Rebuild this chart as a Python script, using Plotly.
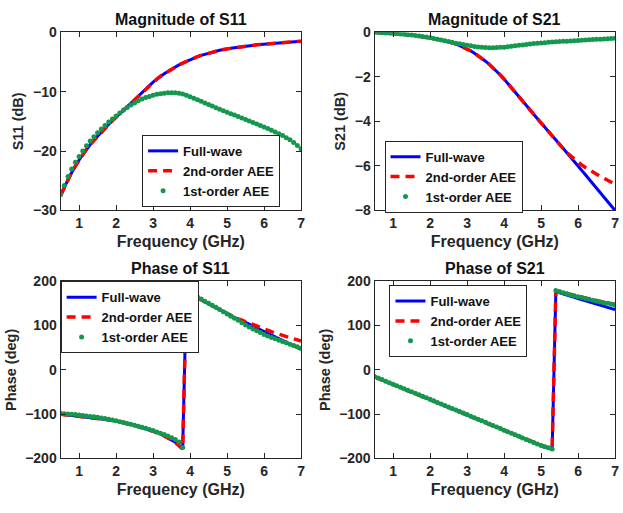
import plotly.graph_objects as go

# Frequency grid (GHz)
freq = [round(0.5 + 0.1 * k, 1) for k in range(66)]

# |S11| (dB)
fw_s11_mag = [-27.4, -26.0, -24.8, -23.6, -22.5, -21.5, -20.6, -19.7, -18.9, -18.2,
              -17.5, -16.8, -16.1, -15.5, -14.9, -14.3, -13.7, -13.1, -12.5, -11.9,
              -11.3, -10.7, -10.1, -9.5, -8.95, -8.4, -7.9, -7.4, -7.0, -6.6,
              -6.2, -5.85, -5.5, -5.2, -4.9, -4.6, -4.35, -4.1, -3.9, -3.7,
              -3.5, -3.35, -3.2, -3.05, -2.9, -2.8, -2.7, -2.6, -2.5, -2.42,
              -2.34, -2.26, -2.19, -2.12, -2.06, -2.0, -1.94, -1.89, -1.84, -1.79,
              -1.74, -1.69, -1.64, -1.59, -1.55, -1.5]
aee2_s11_mag = [-27.5, -26.1, -24.8, -23.6, -22.5, -21.5, -20.6, -19.7, -18.9, -18.2,
                -17.5, -16.8, -16.1, -15.5, -14.9, -14.3, -13.7, -13.1, -12.5, -11.9,
                -11.3, -10.7, -10.1, -9.5, -8.95, -8.4, -7.9, -7.4, -7.0, -6.6,
                -6.2, -5.85, -5.5, -5.2, -4.9, -4.6, -4.35, -4.1, -3.9, -3.7,
                -3.5, -3.35, -3.2, -3.05, -2.9, -2.8, -2.7, -2.6, -2.5, -2.42,
                -2.34, -2.26, -2.19, -2.12, -2.06, -2.0, -1.94, -1.89, -1.84, -1.79,
                -1.74, -1.69, -1.64, -1.59, -1.55, -1.5]
aee1_s11_mag = [-27.3, -25.8, -24.3, -23.0, -21.9, -20.9, -20.0, -19.1, -18.3, -17.6,
                -16.9, -16.3, -15.7, -15.1, -14.6, -14.1, -13.6, -13.1, -12.65, -12.25,
                -11.9, -11.55, -11.25, -11.0, -10.8, -10.6, -10.45, -10.35, -10.25, -10.2,
                -10.2, -10.2, -10.25, -10.4, -10.6, -10.85, -11.1, -11.35, -11.6, -11.9,
                -12.15, -12.4, -12.7, -12.95, -13.2, -13.45, -13.7, -13.95, -14.2, -14.45,
                -14.7, -14.95, -15.2, -15.45, -15.7, -15.95, -16.2, -16.5, -16.8, -17.1,
                -17.4, -17.75, -18.1, -18.55, -19.05, -19.6]

# |S21| (dB)
fw_s21_mag = [0.0, -0.01, -0.02, -0.03, -0.04, -0.05, -0.06, -0.08, -0.09, -0.11,
              -0.13, -0.15, -0.17, -0.19, -0.22, -0.25, -0.28, -0.31, -0.35, -0.38,
              -0.42, -0.47, -0.53, -0.6, -0.67, -0.75, -0.84, -0.94, -1.05, -1.17,
              -1.3, -1.44, -1.59, -1.75, -1.92, -2.1, -2.29, -2.48, -2.68, -2.88,
              -3.08, -3.28, -3.48, -3.68, -3.88, -4.08, -4.27, -4.46, -4.65, -4.84,
              -5.03, -5.22, -5.41, -5.6, -5.8, -6.0, -6.2, -6.4, -6.6, -6.8,
              -7.0, -7.2, -7.4, -7.6, -7.8, -8.0]
aee2_s21_mag = [0.0, -0.01, -0.02, -0.03, -0.04, -0.05, -0.06, -0.08, -0.09, -0.11,
                -0.13, -0.15, -0.17, -0.19, -0.22, -0.25, -0.28, -0.31, -0.35, -0.38,
                -0.42, -0.47, -0.53, -0.6, -0.67, -0.75, -0.84, -0.94, -1.05, -1.17,
                -1.3, -1.44, -1.59, -1.75, -1.92, -2.1, -2.29, -2.48, -2.68, -2.88,
                -3.08, -3.28, -3.48, -3.68, -3.88, -4.08, -4.27, -4.46, -4.65, -4.84,
                -5.03, -5.22, -5.41, -5.56, -5.7, -5.84, -5.96, -6.07, -6.18, -6.28,
                -6.38, -6.47, -6.55, -6.64, -6.73, -6.82]
aee1_s21_mag = [0.0, -0.01, -0.02, -0.03, -0.04, -0.05, -0.06, -0.08, -0.09, -0.11,
                -0.13, -0.15, -0.17, -0.19, -0.22, -0.25, -0.28, -0.31, -0.35, -0.38,
                -0.42, -0.45, -0.49, -0.52, -0.55, -0.58, -0.61, -0.64, -0.66, -0.68,
                -0.69, -0.7, -0.7, -0.69, -0.68, -0.67, -0.65, -0.63, -0.61, -0.59,
                -0.57, -0.55, -0.53, -0.51, -0.5, -0.48, -0.47, -0.45, -0.44, -0.43,
                -0.42, -0.41, -0.4, -0.39, -0.38, -0.37, -0.36, -0.35, -0.34, -0.33,
                -0.32, -0.31, -0.3, -0.29, -0.28, -0.27]

# Phase of S11 (deg)
fw_s11_ph = [-100, -101, -102, -102.5, -103, -104, -104.5, -105.5, -106.5, -107.5,
             -108.5, -109.5, -111, -112.5, -114, -115.5, -117, -119, -121, -123,
             -125, -127.5, -130, -132.5, -135, -138, -141, -144.5, -149, -153,
             -158, -163.5, -170, -178, 176, 171.5, 167, 162.5, 158, 153,
             148.5, 144, 139.5, 135, 130.5, 126, 122, 118, 114.5, 111,
             107, 103, 98.5, 94.5, 90, 86, 82, 78, 74, 70,
             66, 62, 58, 54, 50, 46]
aee2_s11_ph = [-100, -101, -102, -102.5, -103, -104, -104.5, -105.5, -106.5, -107.5,
               -108.5, -109.5, -111, -112.5, -114, -115.5, -117, -119, -121, -123,
               -125, -127.5, -130, -132.5, -135, -138, -141, -144.5, -149, -153,
               -158, -163.5, -170, -179, 177, 172, 167.5, 163, 158.5, 153.5,
               149, 144.5, 140, 135.5, 131, 127, 123, 119, 115, 112,
               108.5, 105, 101.5, 98, 95, 92, 89, 86, 83, 80,
               77.5, 75, 72.5, 70, 67.5, 65]
aee1_s11_ph = [-98, -99, -99.5, -100, -101, -102, -103, -104, -105, -106,
               -107, -108.5, -110, -111.5, -113, -115, -117, -119, -121, -123,
               -125, -127, -129.5, -132, -134.5, -137, -140, -143, -146, -149.5,
               -153, -157, -163, -175, 179, 173.5, 169, 164.5, 160, 155,
               150, 145.5, 141, 136, 131, 126, 121, 116.5, 112, 106.5,
               101, 96.5, 92, 88, 84, 80, 76.5, 73, 70, 67,
               64, 61, 58, 55, 52, 49]

# Phase of S21 (deg)
fw_s21_ph = [-16, -19.4, -22.8, -26.2, -29.6, -33, -36.4, -39.8, -43.2, -46.6,
             -50, -53.4, -56.8, -60.3, -63.7, -67.1, -70.5, -74, -77.4, -80.8,
             -84.3, -87.7, -91.1, -94.6, -98, -101.5, -104.9, -108.4, -111.8, -115.3,
             -118.7, -122.2, -125.6, -129.1, -132.6, -136, -139.5, -143, -146.5, -150,
             -153.5, -157, -160.5, -164, -167.5, -171, -174.2, -177.2, -179.5, 177,
             174, 171, 168.5, 166, 163.5, 161, 158.5, 156, 153.5, 151,
             148.5, 146, 143.5, 141, 138.5, 136]
aee2_s21_ph = [-16, -19.4, -22.8, -26.2, -29.6, -33, -36.4, -39.8, -43.2, -46.6,
               -50, -53.4, -56.8, -60.3, -63.7, -67.1, -70.5, -74, -77.4, -80.8,
               -84.3, -87.7, -91.1, -94.6, -98, -101.5, -104.9, -108.4, -111.8, -115.3,
               -118.7, -122.2, -125.6, -129.1, -132.6, -136, -139.5, -143, -146.5, -150,
               -153.5, -157, -160.5, -164, -167.5, -171, -174.2, -177.2, -179.6, 178,
               176, 173.5, 171, 169, 167, 165, 163, 161, 159, 157,
               155.5, 154, 152.5, 151, 149.5, 148]
aee1_s21_ph = [-15, -18.5, -22, -25.5, -29, -32.5, -36, -39.4, -42.8, -46.2,
               -49.6, -53, -56.4, -59.8, -63.2, -66.6, -70, -73.4, -76.8, -80.2,
               -83.6, -87, -90.5, -94, -97.5, -101, -104.5, -108, -111.5, -115,
               -118.5, -122, -125.5, -129, -132.5, -136, -139.5, -143, -146.5, -150,
               -153.5, -157, -160.5, -164, -167.5, -170.5, -173.5, -176, -178.5, 179,
               176.5, 174, 171.5, 169, 167, 165, 163, 161, 159, 157,
               155, 153, 151.5, 150, 148, 146]

series_names = ["Full-wave", "2nd-order AEE", "1st-order AEE"]
panels = [
    ("Magnitude of S11", "S11 (dB)", [fw_s11_mag, aee2_s11_mag, aee1_s11_mag], [-30, 0], [0, -10, -20, -30]),
    ("Magnitude of S21", "S21 (dB)", [fw_s21_mag, aee2_s21_mag, aee1_s21_mag], [-8, 0], [0, -2, -4, -6, -8]),
    ("Phase of S11", "Phase (deg)", [fw_s11_ph, aee2_s11_ph, aee1_s11_ph], [-200, 200], [-200, -100, 0, 100, 200]),
    ("Phase of S21", "Phase (deg)", [fw_s21_ph, aee2_s21_ph, aee1_s21_ph], [-200, 200], [-200, -100, 0, 100, 200]),
]

W, H = 623, 513
# plot-area boxes in pixels: (left, right, top, bottom)
boxes = [(61, 303, 25, 209), (377, 619, 25, 209), (61, 303, 282, 465), (377, 619, 282, 465)]
# legend top-left corners in pixels
legend_pos = [(143, 131), (387, 137), (61, 282), (392, 286)]

FONT = "Liberation Sans, Arial, sans-serif"
INK = "#262626"
GREEN = "rgb(20,152,78)"

fig = go.Figure()
layout = dict(
    width=W, height=H, margin=dict(l=0, r=0, t=0, b=0),
    paper_bgcolor="white", plot_bgcolor="white",
    font=dict(family=FONT, size=13, color=INK, weight="bold"),
    annotations=[],
)

for i, (title, ylab, (fw, a2, a1), yr, yt) in enumerate(panels):
    n = "" if i == 0 else str(i + 1)
    xa, ya = "x" + n, "y" + n
    lg = "legend" + n
    fig.add_trace(go.Scatter(x=freq, y=fw, mode="lines", name=series_names[0],
                             line=dict(color="rgb(0,0,255)", width=3),
                             xaxis=xa, yaxis=ya, legend=lg))
    fig.add_trace(go.Scatter(x=freq, y=a2, mode="lines", name=series_names[1],
                             line=dict(color="rgb(255,0,0)", width=3.5, dash="9px,6px"),
                             xaxis=xa, yaxis=ya, legend=lg))
    fig.add_trace(go.Scatter(x=freq, y=a1, mode="markers", name=series_names[2],
                             marker=dict(color=GREEN, size=5),
                             xaxis=xa, yaxis=ya, legend=lg))

    l, r, t, b = boxes[i]
    axis_common = dict(showline=True, linecolor=INK, linewidth=1.2, mirror="allticks",
                       ticks="inside", ticklen=5, tickwidth=1.2, tickcolor=INK,
                       showgrid=False, zeroline=False,
                       tickfont=dict(family=FONT, size=14, color=INK, weight="bold"))
    layout["xaxis" + n] = dict(axis_common, domain=[l / W, r / W], range=[0.5, 7],
                               tickvals=[1, 2, 3, 4, 5, 6, 7], anchor=ya,
                               title=dict(text="Frequency (GHz)", standoff=5,
                                          font=dict(family=FONT, size=16, color=INK, weight="bold")))
    layout["yaxis" + n] = dict(axis_common, domain=[1 - b / H, 1 - t / H], range=yr,
                               tickvals=yt, anchor=xa,
                               title=dict(text=ylab, standoff=5,
                                          font=dict(family=FONT, size=14.5, color=INK, weight="bold")))
    layout["annotations"].append(dict(text=title, x=(l + r) / 2 / W, y=1 - (t - 13) / H,
                                      xref="paper", yref="paper", showarrow=False,
                                      xanchor="center", yanchor="middle",
                                      font=dict(family=FONT, size=16, color="#111", weight="bold")))
    lx, ly = legend_pos[i]
    layout[lg] = dict(x=lx / W, y=1 - ly / H, xanchor="left", yanchor="top",
                      bgcolor="white", bordercolor=INK, borderwidth=1,
                      font=dict(family=FONT, size=13, color="#111", weight="bold"),
                      itemwidth=30, tracegroupgap=0)

fig.update_layout(**layout)
fig.write_html("out.html")
